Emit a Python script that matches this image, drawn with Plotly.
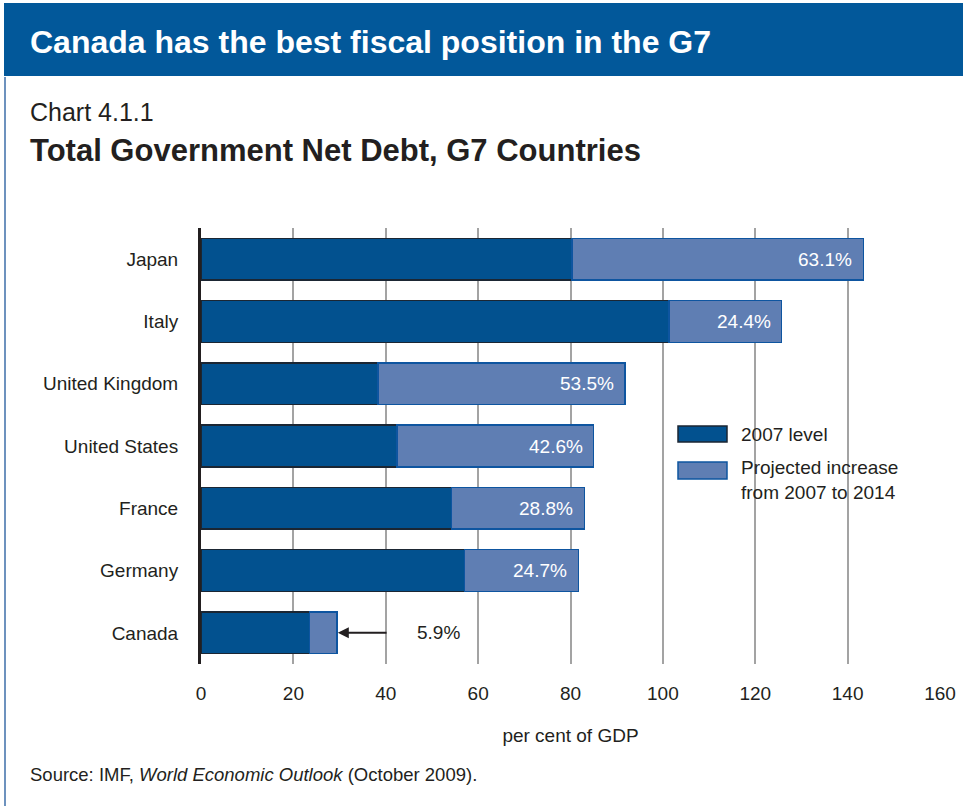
import plotly.graph_objects as go

countries = ["Japan", "Italy", "United Kingdom", "United States", "France", "Germany", "Canada"]
level_2007 = [80.3, 101.3, 38.3, 42.4, 54.2, 57.0, 23.5]
increase = [63.1, 24.4, 53.5, 42.6, 28.8, 24.7, 5.9]
x_ticks = [0, 20, 40, 60, 80, 100, 120, 140, 160]

DARK = "#02518f"
LIGHT = "#5f7eb3"
HEADER = "#02589a"
INK = "#231f20"
FONT = "Liberation Sans, Arial, Helvetica, sans-serif"

W, H = 963, 806
L, R, T, B = 201, 23, 228, 142
PW, PH = W - L - R, H - T - B


def px(x):
    return (x - L) / PW


def py(y):
    return (H - B - y) / PH


fig = go.Figure()
fig.add_trace(go.Bar(
    y=countries, x=level_2007, orientation="h", name="2007 level",
    marker=dict(color=DARK, line=dict(color="#1b2633", width=1.5)),
))
fig.add_trace(go.Bar(
    y=countries, x=increase, orientation="h", name="Projected increase from 2007 to 2014",
    marker=dict(color=LIGHT, line=dict(color="#0e55a0", width=1.5)),
))

# value labels inside the light bars (all but Canada)
for c, lv, inc in zip(countries[:-1], level_2007[:-1], increase[:-1]):
    fig.add_annotation(x=lv + inc, y=c, xref="x", yref="y", text=f"{inc}%",
                       xanchor="right", xshift=-9, showarrow=False,
                       font=dict(size=19, color="white", family=FONT))

# Canada annotation with arrow
total_canada = level_2007[-1] + increase[-1]
fig.add_annotation(x=total_canada, y=countries[-1], xref="x", yref="y",
                   ax=40.5, ay=countries[-1], axref="x", ayref="y",
                   text="", showarrow=True, arrowhead=2, arrowsize=1.1,
                   arrowwidth=2, arrowcolor=INK, standoff=1)
fig.add_annotation(x=51.4, y=countries[-1], xref="x", yref="y",
                   text=f"{increase[-1]}%", showarrow=False,
                   font=dict(size=19, color=INK, family=FONT))

shapes = [
    dict(type="rect", xref="paper", yref="paper", x0=px(4), x1=px(963), y0=py(76), y1=py(3),
         fillcolor=HEADER, line=dict(width=0), layer="below"),
    dict(type="line", xref="paper", yref="paper", x0=px(5), x1=px(5), y0=py(77), y1=py(806),
         line=dict(color="#6d92be", width=2)),
    # legend swatches
    dict(type="rect", xref="paper", yref="paper", x0=px(678), x1=px(727), y0=py(442), y1=py(426),
         fillcolor=DARK, line=dict(color="#1b2633", width=1.5)),
    dict(type="rect", xref="paper", yref="paper", x0=px(678), x1=px(727), y0=py(479), y1=py(462),
         fillcolor=LIGHT, line=dict(color="#0e55a0", width=1.5)),
]

annotations = [
    dict(text="<b>Canada has the best fiscal position in the G7</b>", x=px(28), y=py(42),
         font=dict(size=32, color="white", family=FONT)),
    dict(text="Chart 4.1.1", x=px(28), y=py(112), font=dict(size=25, color=INK, family=FONT)),
    dict(text="<b>Total Government Net Debt, G7 Countries</b>", x=px(28), y=py(150),
         font=dict(size=31, color=INK, family=FONT)),
    dict(text="Source: IMF, <i>World Economic Outlook</i> (October 2009).", x=px(28), y=py(775),
         font=dict(size=18.5, color=INK, family=FONT)),
    dict(text="2007 level", x=px(739), y=py(434), font=dict(size=19, color=INK, family=FONT)),
    dict(text="Projected increase<br>from 2007 to 2014", x=px(739), y=py(480), align="left",
         font=dict(size=19, color=INK, family=FONT)),
]
for a in annotations:
    a.update(xref="paper", yref="paper", xanchor="left", yanchor="middle", showarrow=False)
    fig.add_annotation(**a)

fig.update_layout(
    width=W, height=H, barmode="stack", bargap=0.33,
    margin=dict(l=L, r=R, t=T, b=B, autoexpand=False),
    paper_bgcolor="white", plot_bgcolor="white",
    showlegend=False, shapes=shapes,
    font=dict(family=FONT, size=19, color=INK),
)
fig.update_xaxes(range=[0, 160], tickvals=x_ticks, showgrid=True, gridcolor="#a3a3a3", gridwidth=1.5,
                 zeroline=False, showline=False, ticks="", ticklabelstandoff=16,
                 tickfont=dict(size=19, color=INK),
                 title=dict(text="per cent of GDP", font=dict(size=19, color=INK), standoff=25))
fig.update_yaxes(autorange="reversed", showline=True, linecolor=INK, linewidth=3,
                 ticks="", ticklabelstandoff=16, tickfont=dict(size=19, color=INK),
                 showgrid=False)

fig.write_html("out.html", config={"displayModeBar": False},
               post_script="document.body.style.margin='0';document.body.style.overflow='hidden';")
